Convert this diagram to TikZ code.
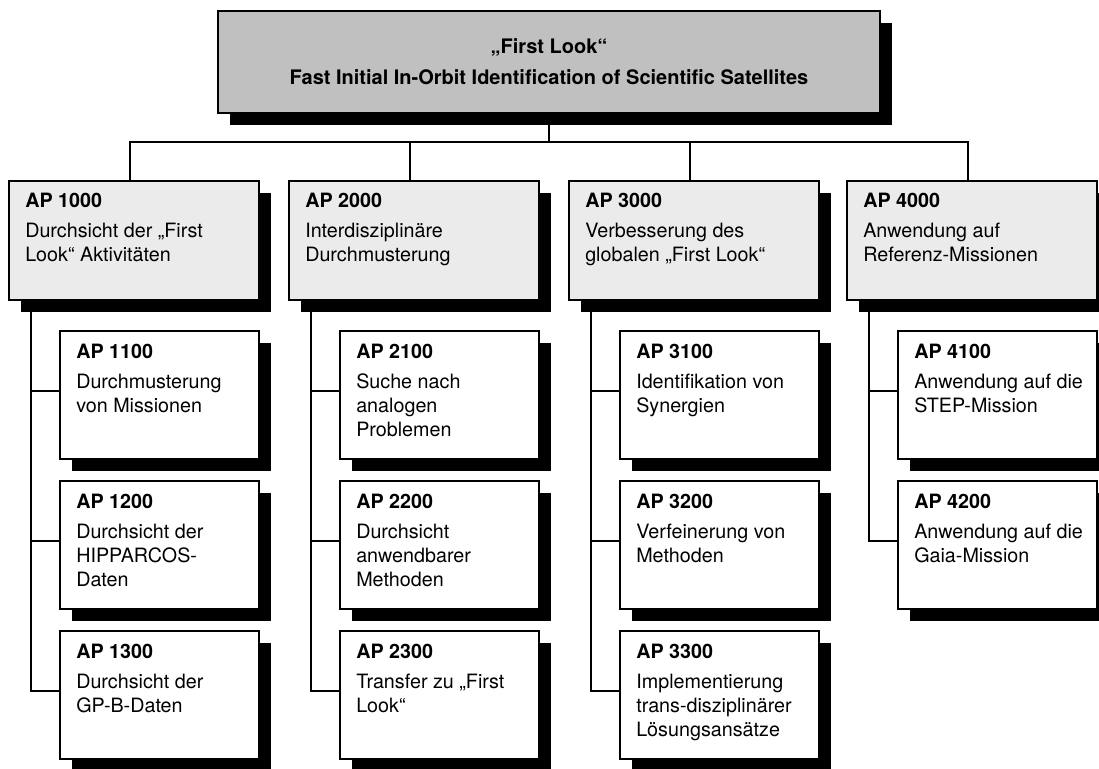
\documentclass[tikz,border=0pt]{standalone}
\usepackage{fontspec}
\setmainfont{TeX Gyre Heros}
\usetikzlibrary{shadows}
\definecolor{headgray}{RGB}{192,192,192}
\definecolor{wpgray}{RGB}{235,235,235}
\begin{document}
\begin{tikzpicture}[x=0.75pt,y=-0.75pt,
    box/.style = {rectangle,draw=black,line width=1.5pt,inner sep=0pt,outer sep=0pt,anchor=north west,
                  drop shadow={shadow xshift=9pt,shadow yshift=-9pt,fill=black,opacity=1}},
    head/.style = {box,fill=headgray,minimum width=496.5pt,minimum height=76.5pt},
    wp/.style = {box,fill=wpgray,minimum width=187.5pt,minimum height=89.5pt},
    sub/.style = {box,fill=white,minimum width=149.25pt,minimum height=96pt},
    txt/.style = {inner sep=0pt,anchor=north west,align=left,font=\fontsize{14.8}{18}\selectfont},
    link/.style = {draw=black,line width=1.2pt}]
\useasboundingbox (0,0) rectangle (1099,768);
\node[head] (top) at (218,11) {};
\node[align=center,inner sep=0pt,font=\bfseries\fontsize{15}{23.25}\selectfont] (title) at (top.center) {„First Look“\\Fast Initial In-Orbit Identification of Scientific Satellites};
\coordinate (bus) at (549,142);
\draw[link] (top.south) -- (bus);
    \foreach \c/\x/\ap/\txt in {1/9/1000/{Durchsicht der „First\\Look“ Aktivitäten},
                                2/289/2000/{Interdisziplinäre\\Durchmusterung},
                                3/569/3000/{Verbesserung des\\globalen „First Look“},
                                4/847/4000/{Anwendung auf\\Referenz-Missionen}} {
        \node[wp] (wp\c) at (\x,181) {};
        \node[txt] (wp\c-t) at ([shift={(16,12)}]wp\c.north west) {\textbf{AP \ap}\\[4.5pt]\txt};
        \draw[link] (bus) -| ([xshift=-3pt]wp\c.north);
    }
    \foreach \c/\r/\ap/\txt in {1/1/1100/{Durchmusterung\\von Missionen},
                                1/2/1200/{Durchsicht der\\HIPPARCOS-\\Daten},
                                1/3/1300/{Durchsicht der\\GP-B-Daten},
                                2/1/2100/{Suche nach\\analogen\\Problemen},
                                2/2/2200/{Durchsicht\\anwendbarer\\Methoden},
                                2/3/2300/{Transfer zu „First\\Look“},
                                3/1/3100/{Identifikation von\\Synergien},
                                3/2/3200/{Verfeinerung von\\Methoden},
                                3/3/3300/{Implementierung\\trans-disziplinärer\\Lösungsansätze},
                                4/1/4100/{Anwendung auf die\\STEP-Mission},
                                4/2/4200/{Anwendung auf die\\Gaia-Mission}} {
        \node[sub] (sub\c\r) at ([shift={(51,150*\r)}]wp\c.north west) {};
        \node[txt] (sub\c\r-t) at ([shift={(16,13)}]sub\c\r.north west) {\textbf{AP \ap}\\[4.5pt]\txt};
        \draw[link] ([xshift=16.5pt]wp\c.south west) |- ([yshift=3pt]sub\c\r.west);
    }
\end{tikzpicture}
\end{document}
